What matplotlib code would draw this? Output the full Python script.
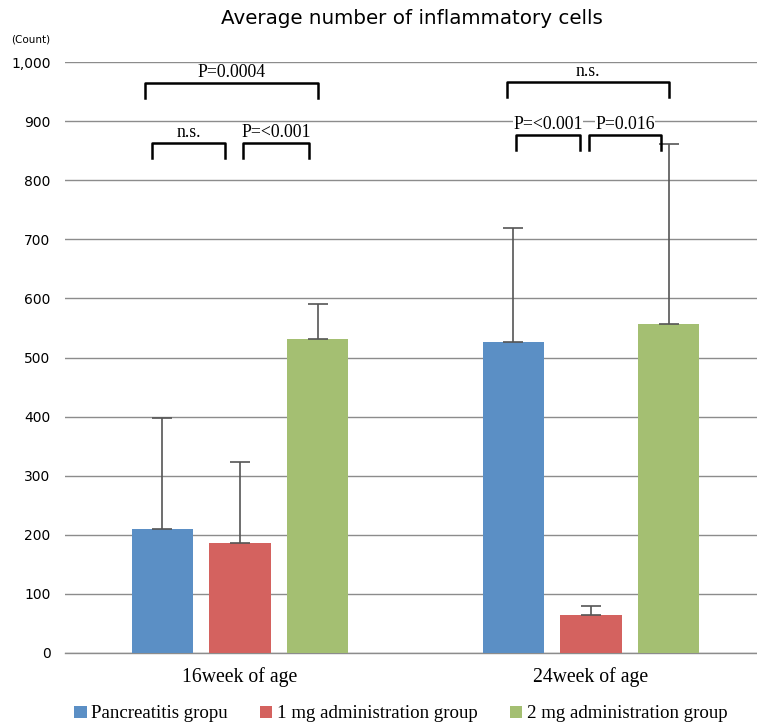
import matplotlib
matplotlib.use("Agg")
import matplotlib.pyplot as plt
import numpy as np

categories = ["16week of age", "24week of age"]
series_names = ["Pancreatitis gropu", "1 mg administration group", "2 mg administration group"]
pancreatitis = [210, 527]
mg1 = [186, 65]
mg2 = [531, 556]
pancreatitis_err = [187, 192]
mg1_err = [138, 14]
mg2_err = [59, 306]
yticks = [0, 100, 200, 300, 400, 500, 600, 700, 800, 900, 1000]
ytick_labels = ["0", "100", "200", "300", "400", "500", "600", "700", "800", "900", "1,000"]
colors = ["#5b8fc5", "#d4625f", "#a4bf72"]

# significance brackets: (category, left offset, right offset, height, label)
brackets = [
    (0, -0.27, 0.222, 964, "P=0.0004"),
    (0, -0.25, -0.043, 863, "n.s."),
    (0, 0.008, 0.197, 863, "P=<0.001"),
    (1, -0.239, 0.222, 966, "n.s."),
    (1, -0.215, -0.03, 876, "P=<0.001"),
    (1, -0.005, 0.2, 876, "P=0.016"),
]

W, H = 757, 727
fig = plt.figure(figsize=(W / 100, H / 100), dpi=100)
left, right, bottom, top = 64.5, 766.5, 653, 62
ax = fig.add_axes([left / W, (H - bottom) / H, (right - left) / W, (bottom - top) / H])

x = np.arange(len(categories))
bw = 0.174
step = 0.2215
data = [pancreatitis, mg1, mg2]
errs = [pancreatitis_err, mg1_err, mg2_err]
for i, (vals, e, c, name) in enumerate(zip(data, errs, colors, series_names)):
    pos = x + (i - 1) * step
    ax.bar(pos, vals, width=bw, color=c, label=name, zorder=3)
    ax.errorbar(pos, vals, yerr=[np.zeros(len(e)), e], fmt="none", ecolor="#555555",
                elinewidth=1.2, capsize=7.5, capthick=1.2, zorder=4)

ax.set_xlim(-0.5, 1.5)
ax.set_ylim(0, 1000)
ax.set_yticks(yticks)
ax.set_yticklabels(ytick_labels, fontsize=10, family="DejaVu Sans")
ax.set_xticks(x)
ax.set_xticklabels(categories, fontsize=14.2, family="Liberation Serif")
ax.tick_params(axis="x", length=0, pad=10)
ax.tick_params(axis="y", length=0, pad=10)
ax.yaxis.grid(True, color="#8c8c8c", linewidth=1, zorder=0)
ax.set_axisbelow(True)
for s in ["top", "right", "left"]:
    ax.spines[s].set_visible(False)
ax.spines["bottom"].set_color("#8c8c8c")
ax.spines["bottom"].set_linewidth(1)

for cat, a, b, h, label in brackets:
    x1, x2 = cat + a, cat + b
    ax.plot([x1, x1, x2, x2], [h - 25, h, h, h - 25], color="black", lw=1.8,
            zorder=5, clip_on=False)
    t = ax.text((x1 + x2) / 2, h + 4, label, ha="center", va="bottom", fontsize=12.8,
                family="Liberation Serif", zorder=6)
    if h < 900 < h + 40:
        t.set_bbox(dict(facecolor="white", edgecolor="none", pad=0.3))

fig.text(412 / W, 1 - 18 / H, "Average number of inflammatory cells", ha="center",
         va="center", fontsize=14.3, family="DejaVu Sans")
fig.text(31 / W, 1 - 40 / H, "(Count)", ha="center", va="center", fontsize=7.5,
         family="DejaVu Sans")

fig.legend(loc="center", bbox_to_anchor=(401 / W, 1 - 714 / H), ncol=3, frameon=False,
           prop={"family": "Liberation Serif", "size": 13.6}, handlelength=0.65,
           handleheight=0.65, handletextpad=0.25, columnspacing=1.7)

fig.savefig("out.png", dpi=100, facecolor="white")
